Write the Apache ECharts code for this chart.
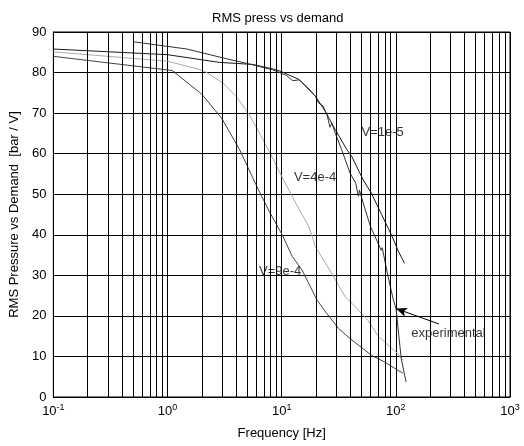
<!DOCTYPE html>
<html>
<head>
<meta charset="utf-8">
<script src="https://cdn.jsdelivr.net/npm/echarts@6/dist/echarts.min.js"></script>
<style>html,body{margin:0;padding:0;background:#fff}#c{width:524px;height:446px}</style>
</head>
<body>
<div id="c"></div>
<script>
// Data: [frequency Hz, RMS pressure vs demand]
const modelV1e5 = [[0.1,85.8],[1,84.4],[2.87,82.5],[5.58,82.0],[8.9,80.7],[10,80.2],[14.2,78.3],[19.8,74.1],[24,70.5],[29.5,65.9],[37.2,61],[41.1,59.3],[51.8,53.5],[61.2,50.2],[75,45],[91.4,40],[105,36],[119,33]];
const modelV4e4 = [[0.1,85.1],[1,82.8],[2.06,80.5],[3.07,77.4],[4.0,74.1],[5.2,69.6],[6.38,65.1],[7.8,60.5],[10,54.4],[13.3,47.8],[17.3,42],[19.8,37],[26.4,31.3],[36,24.7],[41.3,23.1],[57,18.9],[70,15],[104,10.7],[115,9.1]];
const modelV9e4 = [[0.1,84.0],[1.1,80.5],[1.99,74.7],[2.97,68.8],[4.28,61],[5.97,52.3],[7.8,45.7],[10.1,40],[12.4,34.6],[15.1,31.3],[20.4,23.9],[25,20.5],[31.5,16.9],[39.7,14.4],[61,10.3],[80,8.6],[104,6.6],[115,5.9]];
const experimental = [[0.5,87.6],[1.48,85.8],[3.07,83.6],[5.4,82.0],[8.3,80.7],[11,79.3],[12.5,78.0],[14.2,78.2],[17,76.2],[19.8,74.1],[21,72.5],[23,71.8],[25,69.5],[26.5,66.5],[27.5,67.5],[29.5,65.0],[33.5,61],[39.7,55.2],[44.5,52.7],[47,49.5],[48,51],[53.5,46.5],[60,42],[74.5,36.2],[76,36.8],[85.5,29.7],[95,24],[100.4,21.8],[111.4,9.5],[123,3.7]];
const curveLabels = [["V=1e-5",77.3,65.1],["V=4e-4",19.8,54],["V=9e-4",9.8,30.9],["experimental",292,15.6]];
const arrowTail = [239,18];
const arrowHead = [100.4,21.8];
const minorFreqs = [];
[0.1,1,10,100].forEach(d=>{for(let k=2;k<=9;k++) minorFreqs.push(+(d*k).toPrecision(3));});
const yTicks = {min:0,max:90,interval:10};

const chart = echarts.init(document.getElementById('c'), null, {renderer:'canvas'});
const font = 'Liberation Sans, Arial, sans-serif';
chart.setOption({
  animation:false,
  backgroundColor:'#fff',
  title:{text:'RMS press vs demand',left:207,top:7,textStyle:{fontFamily:font,fontSize:13,fontWeight:'normal',color:'#000'}},
  grid:{left:48,right:14,top:32,bottom:49,show:true,borderColor:'#000',borderWidth:1},
  xAxis:{type:'log',logBase:10,min:0.1,max:1000,
    name:'Frequency [Hz]',nameLocation:'middle',nameGap:30,
    nameTextStyle:{fontFamily:font,fontSize:13,color:'#000'},
    axisLine:{lineStyle:{color:'#000'}},axisTick:{show:false},
    splitLine:{show:true,lineStyle:{color:'#000',width:1}},
    axisLabel:{margin:6,color:'#000',fontFamily:font,
      formatter:v=>'{b|10}{s|'+Math.round(Math.log10(v))+'}',
      rich:{b:{fontSize:13,fontFamily:font,color:'#000'},s:{fontSize:9,fontFamily:font,color:'#000',padding:[0,0,8,0]}}}},
  yAxis:{type:'value',min:yTicks.min,max:yTicks.max,interval:yTicks.interval,
    name:'RMS Pressure vs Demand  [bar / V]',nameLocation:'middle',nameGap:31,nameRotate:90,
    nameTextStyle:{fontFamily:font,fontSize:13,color:'#000'},
    axisLine:{show:true,lineStyle:{color:'#000'}},axisTick:{show:false},
    splitLine:{show:true,lineStyle:{color:'#000',width:1}},
    axisLabel:{margin:7,color:'#000',fontFamily:font,fontSize:13}},
  series:[
    {type:'line',data:[],z:1,silent:true,
     markLine:{silent:true,symbol:['none','none'],label:{show:false},
       lineStyle:{color:'#000',width:1,type:'solid'},
       data:minorFreqs.map(f=>({xAxis:f}))}},
    {name:'V=1e-5',type:'line',data:modelV1e5,showSymbol:false,z:3,lineStyle:{color:'#1a1a1a',width:1}},
    {name:'V=4e-4',type:'line',data:modelV4e4,showSymbol:false,z:3,lineStyle:{color:'#aaaaaa',width:1}},
    {name:'V=9e-4',type:'line',data:modelV9e4,showSymbol:false,z:3,lineStyle:{color:'#444444',width:1}},
    {name:'experimental',type:'line',data:experimental,showSymbol:false,z:3,lineStyle:{color:'#333333',width:1},
     markLine:{silent:true,symbol:['none','arrow'],symbolSize:[7,11],label:{show:false},
       lineStyle:{color:'#000',width:1,type:'solid'},
       data:[[{coord:arrowTail},{coord:arrowHead}]]}},
    {type:'scatter',symbolSize:1,clip:false,z:4,silent:true,itemStyle:{color:'rgba(0,0,0,0)'},
     data:curveLabels.map(d=>({name:d[0],value:[d[1],d[2]]})),
     label:{show:true,position:[0,0],align:'center',verticalAlign:'middle',overflow:'none',
       formatter:p=>p.name,color:'#000',fontFamily:font,fontSize:13}}
  ]
});
</script>
</body>
</html>
